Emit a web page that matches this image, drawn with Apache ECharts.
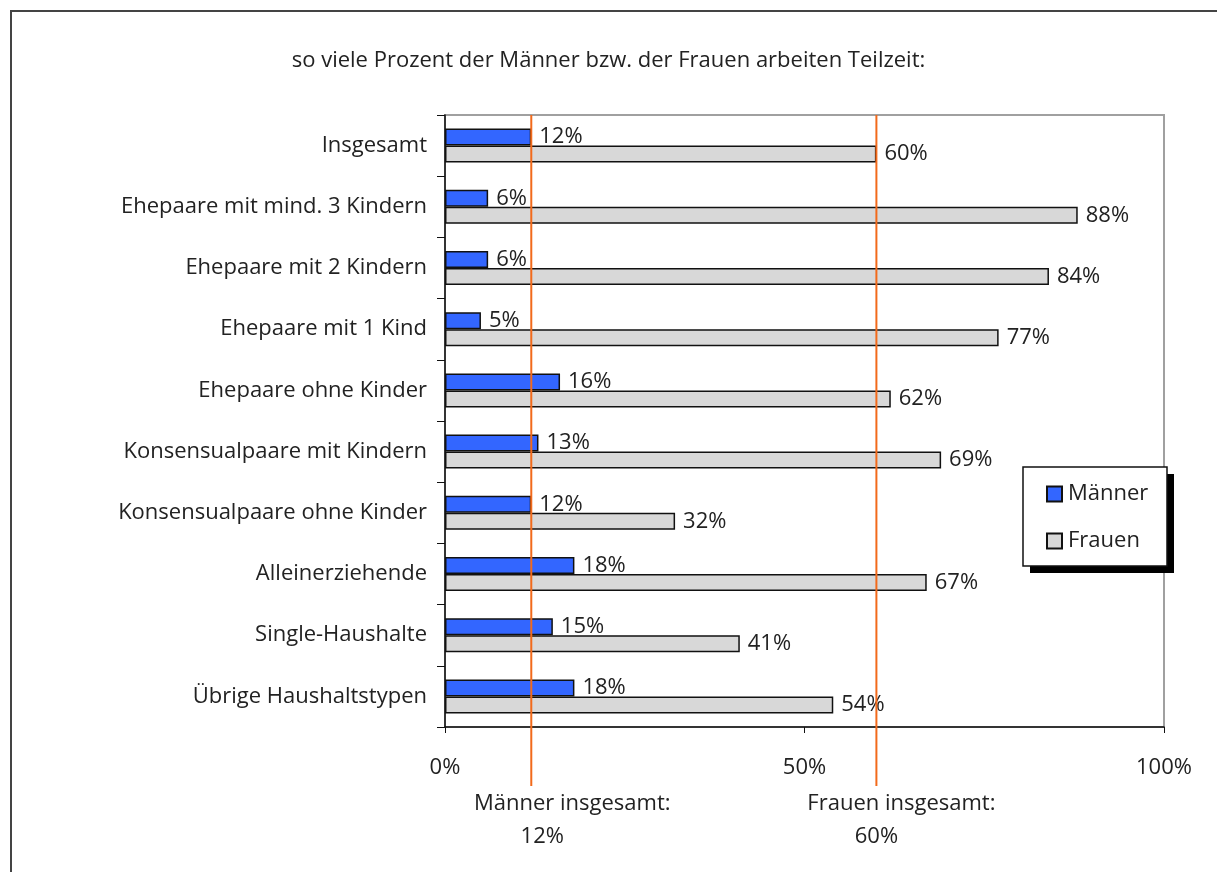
<!DOCTYPE html>
<html>
<head>
<meta charset="utf-8">
<script src="https://cdn.jsdelivr.net/npm/echarts@6/dist/echarts.min.js"></script>
<style>
  html, body { margin: 0; padding: 0; background: #fff; }
  #main { width: 1217px; height: 872px; }
</style>
</head>
<body>
<div id="main"></div>
<script>
// categories top to bottom
var categories = [
  "Insgesamt",
  "Ehepaare mit mind. 3 Kindern",
  "Ehepaare mit 2 Kindern",
  "Ehepaare mit 1 Kind",
  "Ehepaare ohne Kinder",
  "Konsensualpaare mit Kindern",
  "Konsensualpaare ohne Kinder",
  "Alleinerziehende",
  "Single-Haushalte",
  "Übrige Haushaltstypen"
];
var maenner = [12, 6, 6, 5, 16, 13, 12, 18, 15, 18];
var frauen = [60, 88, 84, 77, 62, 69, 32, 67, 41, 54];
var seriesNames = ["Männer", "Frauen"];

// reference lines (insgesamt)
var refValues = [12, 60];
var refLabels = ["Männer insgesamt:", "Frauen insgesamt:"];

var FONT = "Open Sans";
var FS = 22;
var TXT = "#222";
var GRID_TOP = 115;

var myChart = echarts.init(document.getElementById("main"));

var barLabel = {
  show: true,
  position: "right",
  distance: 8,
  formatter: "{c}%",
  fontFamily: FONT,
  fontSize: FS,
  color: TXT
};

myChart.setOption({
  animation: false,
  title: {
    text: "so viele Prozent der Männer bzw. der Frauen arbeiten Teilzeit:",
    left: "center",
    top: 45,
    textStyle: { fontFamily: FONT, fontSize: FS, fontWeight: "normal", color: TXT }
  },
  legend: {
    orient: "vertical",
    left: 1026,
    top: 483,
    padding: [0, 0, 0, 20],
    itemWidth: 15,
    itemHeight: 15,
    itemGap: 25,
    icon: "rect",
    z: 20,
    textStyle: { fontFamily: FONT, fontSize: FS, color: TXT, padding: [0, 0, 0, 1] },
    data: seriesNames
  },
  grid: {
    left: 445,
    right: 53,
    top: GRID_TOP,
    bottom: 145,
    show: true,
    borderColor: "#a0a0a0",
    borderWidth: 2,
    containLabel: false
  },
  xAxis: {
    type: "value",
    min: 0,
    max: 100,
    interval: 50,
    axisLine: { show: true, lineStyle: { color: "#111", width: 1.5 } },
    axisTick: { show: true, length: 6, lineStyle: { color: "#111" } },
    splitLine: { show: false },
    axisLabel: {
      formatter: "{value}%",
      margin: 30,
      fontFamily: FONT,
      fontSize: FS,
      color: TXT
    }
  },
  yAxis: {
    type: "category",
    inverse: true,
    data: categories,
    axisLine: { show: true, lineStyle: { color: "#111", width: 1.5 } },
    axisTick: { show: true, length: 8, interval: 0, lineStyle: { color: "#111" } },
    axisLabel: {
      margin: 18,
      fontFamily: FONT,
      fontSize: FS,
      color: TXT
    }
  },
  series: [
    {
      name: seriesNames[0],
      type: "bar",
      data: maenner,
      barWidth: 17,
      barGap: "0%",
      itemStyle: { color: "#3366ff", borderColor: "#111", borderWidth: 1.5 },
      label: barLabel
    },
    {
      name: seriesNames[1],
      type: "bar",
      data: frauen,
      barWidth: 17,
      barGap: "0%",
      itemStyle: { color: "#d8d8d8", borderColor: "#111", borderWidth: 1.5 },
      label: barLabel
    }
  ],
  graphic: [
    {
      id: "frame",
      type: "rect",
      silent: true,
      shape: { x: 11, y: 11, width: 1300, height: 1000 },
      style: { fill: null, stroke: "#444", lineWidth: 2 }
    },
    // legend box with hard shadow
    {
      id: "legend-shadow",
      type: "rect",
      silent: true,
      z: 10,
      shape: { x: 1030, y: 474, width: 144, height: 99 },
      style: { fill: "#000" }
    },
    {
      id: "legend-box",
      type: "rect",
      silent: true,
      z: 11,
      shape: { x: 1023, y: 467, width: 144, height: 99 },
      style: { fill: "#fff", stroke: "#111", lineWidth: 1.5 }
    }
  ]
});

// orange reference lines + their captions, placed with the axis scale
var extra = [];
refValues.forEach(function (v, i) {
  var x = myChart.convertToPixel({ xAxisIndex: 0 }, v);
  extra.push({
    id: "ref-line-" + i,
    type: "line",
    silent: true,
    z: 100,
    shape: { x1: x, y1: GRID_TOP, x2: x, y2: 786 },
    style: { stroke: "#f26a1b", lineWidth: 2 }
  });
  extra.push({
    id: "ref-cap-" + i,
    type: "text",
    silent: true,
    z: 100,
    x: x + (i === 0 ? 41 : 25),
    y: 804,
    style: {
      text: refLabels[i],
      font: FS + "px '" + FONT + "'",
      fill: TXT,
      align: "center",
      verticalAlign: "middle"
    }
  });
  extra.push({
    id: "ref-val-" + i,
    type: "text",
    silent: true,
    z: 100,
    x: x + (i === 0 ? 11 : 0),
    y: 837,
    style: {
      text: refValues[i] + "%",
      font: FS + "px '" + FONT + "'",
      fill: TXT,
      align: "center",
      verticalAlign: "middle"
    }
  });
});
myChart.setOption({ graphic: extra });
</script>
</body>
</html>
